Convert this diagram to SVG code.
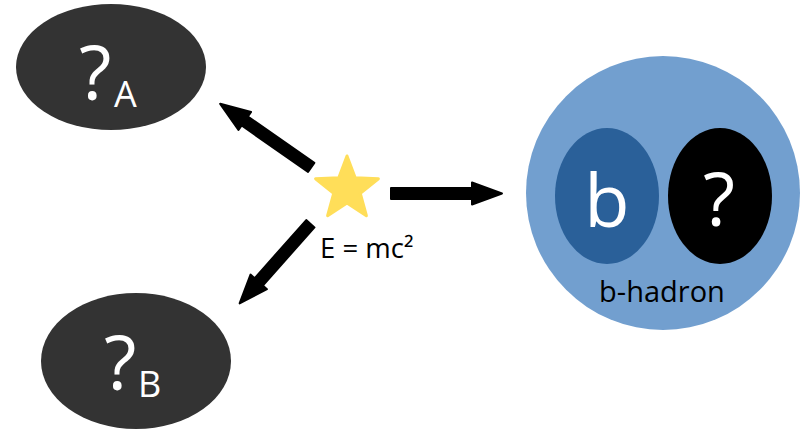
<svg xmlns="http://www.w3.org/2000/svg" xmlns:xlink="http://www.w3.org/1999/xlink" width="802" height="431" viewBox="0 0 802 431">
  <style>
    text { font-family: "Open Sans", "DejaVu Sans", sans-serif; }
    .dark { fill: #333333; }
    .w { fill: #ffffff; }
    .k { fill: #000000; }
    .arrow { fill: #000000; stroke: #000000; stroke-width: 2; stroke-linejoin: round; }
  </style>
  <defs>
    <path id="arr" class="arrow" d="M1,-5.5 L82,-5.5 L82,-11 L112,0 L82,11 L82,5.5 L1,5.5 Z"/>
  </defs>
  <rect x="0" y="0" width="802" height="431" fill="#ffffff"/>

  <g id="nodeA">
    <ellipse class="dark" cx="111" cy="67" rx="95" ry="63"/>
    <text class="w"><tspan x="79" y="100" font-size="75">?</tspan><tspan x="114" y="107" font-size="36">A</tspan></text>
  </g>

  <g id="nodeB">
    <ellipse class="dark" cx="136" cy="361" rx="95" ry="68"/>
    <text class="w"><tspan x="104" y="390" font-size="75">?</tspan><tspan x="138" y="397" font-size="36">B</tspan></text>
  </g>

  <g id="star">
    <polygon fill="#FFDE59" stroke="#FFDE59" stroke-width="3" stroke-linejoin="round"
      points="347,156 355.2,177.7 378.4,178.8 360.3,193.3 366.4,215.7 347,203 327.6,215.7 333.7,193.3 315.6,178.8 338.8,177.7"/>
    <text class="k" x="320" y="258" font-size="27.5">E = mc²</text>
  </g>

  <g id="hadron">
    <circle cx="663" cy="193" r="137" fill="#729FCF"/>
    <g id="quarkB">
      <ellipse cx="607" cy="196" rx="52" ry="68" fill="#2A6099"/>
      <text class="w" x="607" y="227" font-size="74" text-anchor="middle">b</text>
    </g>
    <g id="quarkQ">
      <ellipse cx="720" cy="196" rx="52" ry="68" fill="#000000"/>
      <text class="w" x="719" y="226" font-size="74" text-anchor="middle">?</text>
    </g>
    <text class="k" x="662" y="302" font-size="29" text-anchor="middle">b-hadron</text>
  </g>

  <g id="connectors">
    <use xlink:href="#arr" transform="translate(390,193.5)"/>
    <use xlink:href="#arr" transform="translate(312,168) rotate(214.95)"/>
    <use xlink:href="#arr" transform="translate(311,223) rotate(131.6) scale(0.96,1)"/>
  </g>
</svg>
